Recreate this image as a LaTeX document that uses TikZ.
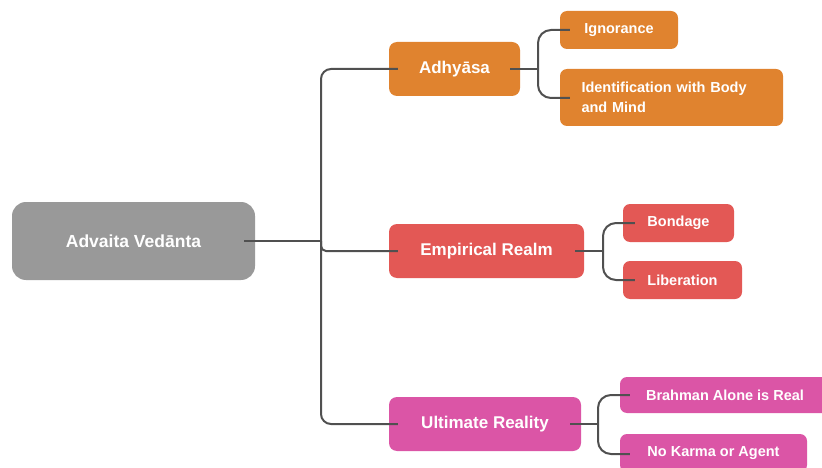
\documentclass[tikz,border=0pt]{standalone}
\usepackage{fontspec}
\setmainfont{Liberation Sans}
\definecolor{cgray}{HTML}{999999}
\definecolor{corange}{HTML}{E0832F}
\definecolor{cred}{HTML}{E35855}
\definecolor{cpink}{HTML}{DB55A6}
\definecolor{cline}{HTML}{505050}
\tikzset{
  box/.style={draw=none, text=white, font=\bfseries, inner sep=0pt, align=center},
  rootbox/.style={box, fill=cgray, rounded corners=14pt, font=\bfseries\fontsize{17.5}{20}\selectfont},
  midbox/.style={box, rounded corners=8pt, font=\bfseries\fontsize{17}{20}\selectfont},
  leafbox/.style={box, rounded corners=7pt, font=\bfseries\fontsize{14.5}{20}\selectfont},
  conn/.style={draw=cline, line width=2pt},
  fork/.style={conn, rounded corners=13pt},
}
\begin{document}
\begin{tikzpicture}[x=1pt,y=-1pt]
\useasboundingbox (0,0) rectangle (822,468);
\coordinate (trunk) at (321,241);
\coordinate (fa) at (538,69);
\coordinate (fe) at (603,251);
\coordinate (fu) at (598,424);

% nodes
\node[rootbox, minimum width=243pt, minimum height=78pt] (root) at (133.5,241) {Advaita Vedānta};
\node[midbox, fill=corange, minimum width=131pt, minimum height=54pt] (adh) at (454.5,69) {Adhyāsa};
\node[midbox, fill=cred, minimum width=195pt, minimum height=54pt] (emp) at (486.5,251) {Empirical Realm};
\node[midbox, fill=cpink, minimum width=192pt, minimum height=54pt] (ult) at (485,424) {Ultimate Reality};
\node[leafbox, fill=corange, minimum width=118pt, minimum height=38pt] (ign) at (619,30) {Ignorance};
\node[leafbox, fill=corange, minimum width=223pt, minimum height=57pt, align=left, text width=180pt] (ide) at (671.5,97.5) {Identification with Body\\and Mind};
\node[leafbox, fill=cred, minimum width=111pt, minimum height=38pt] (bon) at (678.5,223) {Bondage};
\node[leafbox, fill=cred, minimum width=119pt, minimum height=38pt] (lib) at (682.5,280) {Liberation};
\node[leafbox, fill=cpink, minimum width=210pt, minimum height=36pt] (bra) at (725,395) {Brahman Alone is Real};
\node[leafbox, fill=cpink, minimum width=187pt, minimum height=38pt] (nok) at (713.5,453) {No Karma or Agent};

% connectors on top, ending inside boxes
\draw[conn] ([xshift=-11pt]root.east) -- (trunk);
\draw[conn, rounded corners=10pt] (trunk) |- ([xshift=9pt]adh.west);
\draw[conn, rounded corners=5pt] (trunk) |- ([xshift=9pt]emp.west);
\draw[conn, rounded corners=10pt] (trunk) |- ([xshift=9pt]ult.west);

\draw[conn] ([xshift=-10pt]adh.east) -- (fa);
\draw[fork] (fa) |- ([xshift=10pt]ign.west);
\draw[fork] (fa) |- ([xshift=10pt,yshift=-0.5pt]ide.west);

\draw[conn] ([xshift=-9pt]emp.east) -- (fe);
\draw[fork] (fe) |- ([xshift=12pt]bon.west);
\draw[fork] (fe) |- ([xshift=12pt]lib.west);

\draw[conn] ([xshift=-11pt]ult.east) -- (fu);
\draw[fork] (fu) |- ([xshift=10pt]bra.west);
\draw[fork] (fu) |- ([xshift=10pt,yshift=-1pt]nok.west);
\end{tikzpicture}
\end{document}
